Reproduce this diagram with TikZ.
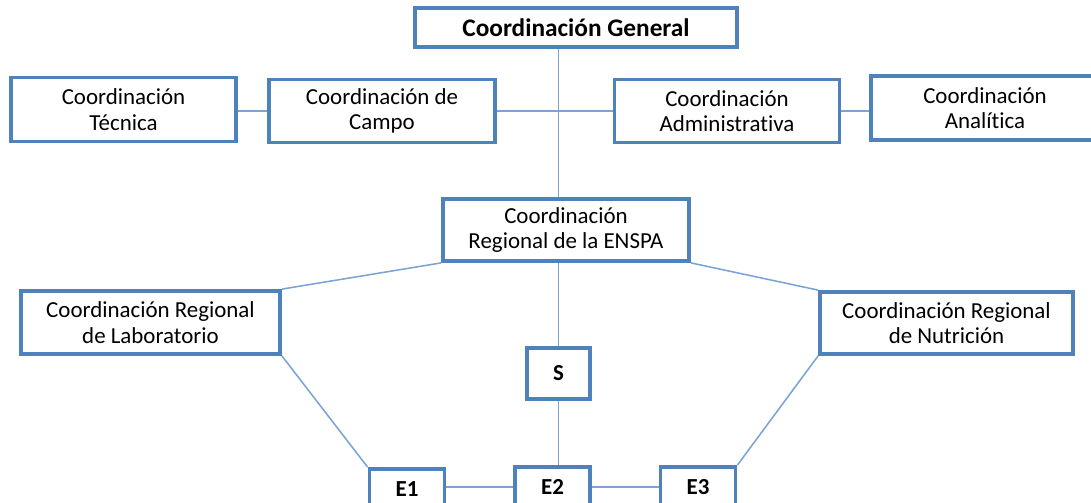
\documentclass[tikz,border=0pt]{standalone}
\usepackage{fontspec}
\setmainfont{Carlito}[Ligatures=NoCommon]
\usepackage{xcolor}
\definecolor{boxblue}{HTML}{4F81BD}
\definecolor{lineblue}{HTML}{7BA3D6}

\begin{document}
\begin{tikzpicture}[x=0.025cm, y=-0.025cm,
    orgbox/.style={draw=boxblue, line width=2.7pt, rectangle, align=center, inner sep=0pt,
        font=\fontsize{16.3}{18.2}\selectfont},
    link/.style={draw=lineblue, line width=1.1pt}]
            \useasboundingbox (0,0) rectangle (1091,502);
            % Organigrama de la coordinacion
            \node[orgbox, minimum width=8.05cm, minimum height=0.975cm, font=\bfseries\fontsize{18}{20}\selectfont] (gen) at (576,27.5) {Coordinación General};
            \node[orgbox, minimum width=5.625cm, minimum height=1.6cm] (tec) at (123.5,109.5) {Coordinación\\Técnica};
            \node[orgbox, minimum width=5.65cm, minimum height=1.575cm] (cam) at (382,111) {Coordinación de\\Campo};
            \node[orgbox, minimum width=5.625cm, minimum height=1.575cm] (adm) at (727,111) {Coordinación\\Administrativa};
            \node[orgbox, minimum width=5.7cm, minimum height=1.6cm] (ana) at (985,108) {Coordinación\\Analítica};
            \node[orgbox, minimum width=6.15cm, minimum height=1.55cm] (enspa) at (566,230) {Coordinación\\Regional de la ENSPA};
            \node[orgbox, minimum width=6.475cm, minimum height=1.575cm] (lab) at (150.5,322.5) {Coordinación Regional\\de Laboratorio};
            \node[orgbox, minimum width=6.325cm, minimum height=1.55cm] (nut) at (946.5,323) {Coordinación Regional\\de Nutrición};
            \node[orgbox, minimum width=1.575cm, minimum height=1.275cm, font=\bfseries\fontsize{16.3}{18.2}\selectfont] (s) at (558.5,373.5) {S};
            \node[orgbox, minimum width=1.875cm, minimum height=1cm, font=\bfseries\fontsize{16.3}{18.2}\selectfont] (e1) at (407,489) {E1};
            \node[orgbox, minimum width=1.875cm, minimum height=1cm, font=\bfseries\fontsize{16.3}{18.2}\selectfont] (e2) at (552.5,487) {E2};
            \node[orgbox, minimum width=1.875cm, minimum height=1cm, font=\bfseries\fontsize{16.3}{18.2}\selectfont] (e3) at (698,487) {E3};

            \draw[link] (gen.south -| s) -- (enspa.north -| s);
            \draw[link] (tec.east |- cam.east) -- (cam.west);
            \draw[link] (cam.east) -- (adm.west);
            \draw[link] (adm.east) -- (ana.west |- adm.east);
            \draw[link] (enspa.south west) -- (lab.north east);
            \draw[link] (enspa.south east) -- (nut.north west);
            \draw[link] (enspa.south -| s) -- (s.north);
            \draw[link] (s.south) -- (s.south |- e2.north);
            \draw[link] (lab.south east) -- (e1.north west);
            \draw[link] (nut.south west) -- (e3.north east);
            \draw[link] (e1.east |- e2.east) -- (e2.west);
            \draw[link] (e2.east) -- (e3.west);
        \end{tikzpicture}
\end{document}
